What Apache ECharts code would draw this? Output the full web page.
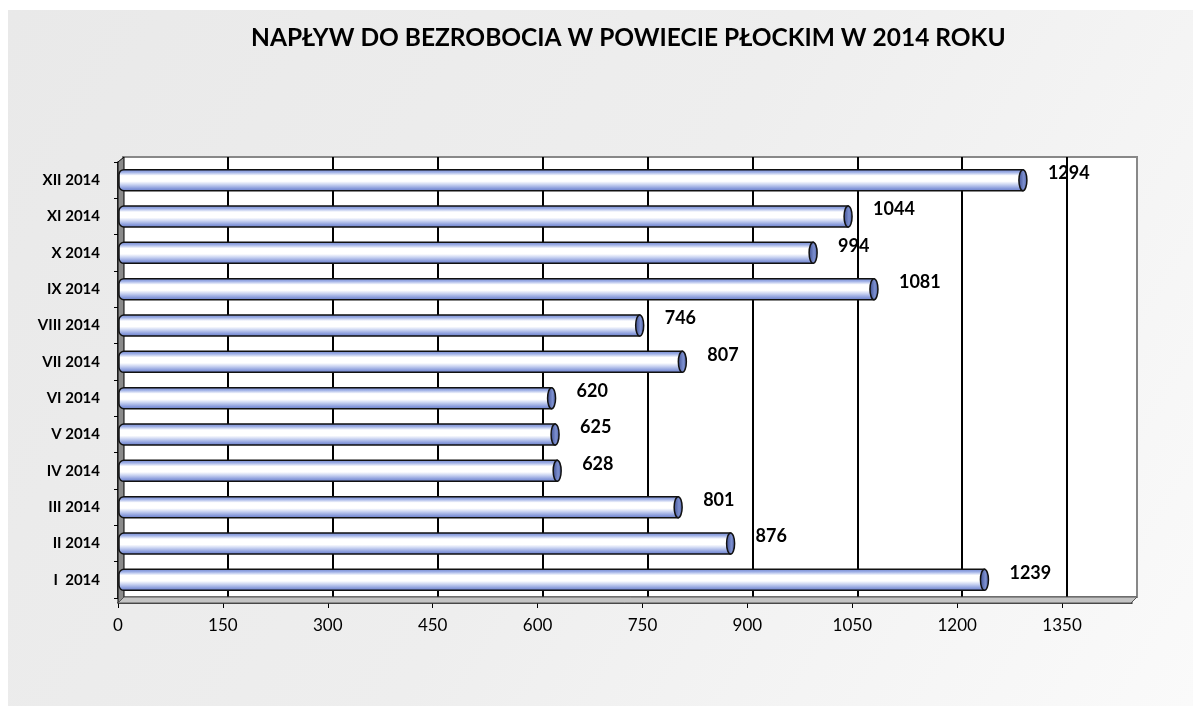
<!DOCTYPE html>
<html>
<head>
<meta charset="utf-8">
<script src="https://cdn.jsdelivr.net/npm/echarts@6/dist/echarts.min.js"></script>
<style>
html,body{margin:0;padding:0;background:#fff;}
#chart{width:1193px;height:706px;}
</style>
</head>
<body>
<div id="chart"></div>
<script>
const titleText = 'NAPŁYW DO BEZROBOCIA W POWIECIE PŁOCKIM W 2014 ROKU';
const categories = ['I  2014','II 2014','III 2014','IV 2014','V 2014','VI 2014','VII 2014','VIII 2014','IX 2014','X 2014','XI 2014','XII 2014'];
const values = [1239, 876, 801, 628, 625, 620, 807, 746, 1081, 994, 1044, 1294];
const axisMin = 0;
const axisMax = 1450;
const axisStep = 150;

const chart = echarts.init(document.getElementById('chart'));
const FONT = 'Lato, "Open Sans", sans-serif';

const gridColors = ['#888'];
for (let v = axisStep; v < axisMax; v += axisStep) gridColors.push('#000');
gridColors.push('#888');

function renderBar(params, api) {
  const v = api.value(0), c = api.value(1);
  const end = api.coord([v, c]);
  const start = api.coord([axisMin, c]);
  const h = api.size([0, 1])[1] * 0.58;
  const y0 = end[1] - h / 2;
  return {
    type: 'group',
    children: [
      {
        type: 'rect',
        shape: { x: start[0] + 1, y: y0, width: end[0] - start[0] - 1, height: h, r: [5, 0, 0, 5] },
        style: {
          fill: new echarts.graphic.LinearGradient(0, 0, 0, 1, [
            { offset: 0, color: '#6a80cc' },
            { offset: 0.15, color: '#9fb0e6' },
            { offset: 0.3, color: '#ffffff' },
            { offset: 0.55, color: '#ffffff' },
            { offset: 0.7, color: '#c8d2f1' },
            { offset: 0.86, color: '#8b9ddc' },
            { offset: 1, color: '#6378c4' }
          ]),
          stroke: '#111', lineWidth: 1.5
        }
      },
      {
        type: 'ellipse',
        shape: { cx: end[0], cy: end[1], rx: 4, ry: h / 2 },
        style: {
          fill: new echarts.graphic.LinearGradient(0, 0, 1, 0, [
            { offset: 0, color: '#3a4a8c' },
            { offset: 0.6, color: '#7d90d0' },
            { offset: 1, color: '#46579a' }
          ]),
          stroke: '#111', lineWidth: 1.5
        }
      },
      {
        type: 'text',
        style: {
          text: String(v), x: end[0] + 25, y: end[1] - 7,
          fill: '#000', fontSize: 18, fontWeight: 'bold', fontFamily: FONT,
          align: 'left', verticalAlign: 'middle'
        }
      }
    ]
  };
}

chart.setOption({
  animation: false,
  backgroundColor: '#fff',
  graphic: [
    {
      type: 'rect', z: -10, silent: true,
      shape: { x: 8, y: 10, width: 1185, height: 696 },
      style: { fill: new echarts.graphic.LinearGradient(0, 0, 1, 1, [
        { offset: 0, color: '#e9e9e9' },
        { offset: 0.5, color: '#eeeeee' },
        { offset: 1, color: '#fafafa' }
      ]) }
    },
    {
      type: 'polygon', z: 5, silent: true,
      shape: { points: [[118, 162], [124, 157], [124, 597], [118, 603]] },
      style: { fill: '#8a8a8a', stroke: '#000', lineWidth: 1 }
    },
    {
      type: 'polygon', z: 5, silent: true,
      shape: { points: [[118, 603], [124, 597], [1137, 597], [1131, 603]] },
      style: { fill: '#c4c4c4', stroke: '#555', lineWidth: 1 }
    }
  ],
  title: {
    text: titleText, left: 246, top: 21,
    textStyle: { fontFamily: FONT, fontSize: 24.5, fontWeight: 'bold', color: '#000' }
  },
  grid: [
    { left: 123, top: 157, width: 1014, height: 440, show: true, backgroundColor: '#fff', borderColor: '#888', borderWidth: 2 },
    { left: 118, top: 162, width: 1014, height: 436 }
  ],
  xAxis: [
    {
      gridIndex: 0, type: 'value', min: axisMin, max: axisMax, interval: axisStep,
      axisLine: { show: false }, axisTick: { show: false }, axisLabel: { show: false },
      splitLine: { show: true, lineStyle: { color: gridColors, width: 2 } }
    },
    {
      gridIndex: 1, type: 'value', min: axisMin, max: axisMax, interval: axisStep, offset: 5,
      axisLine: { show: true, lineStyle: { color: '#000', width: 1.5 } },
      axisTick: { show: true, length: 5, lineStyle: { color: '#000' } },
      axisLabel: { showMaxLabel: false, color: '#000', fontSize: 17, fontFamily: FONT, margin: 14,
        formatter: (val) => String(val) },
      splitLine: { show: false }
    }
  ],
  yAxis: [
    { gridIndex: 0, type: 'value', show: false, splitLine: { show: false } },
    {
      gridIndex: 1, type: 'category', data: categories,
      axisLine: { show: true, lineStyle: { color: '#000', width: 1.5 } },
      axisTick: { show: true, length: 4, lineStyle: { color: '#000' } },
      axisLabel: { color: '#000', fontSize: 15, fontWeight: 'bold', fontFamily: FONT, margin: 18 },
      splitLine: { show: false }
    }
  ],
  series: [
    {
      type: 'custom', xAxisIndex: 1, yAxisIndex: 1, z: 10,
      renderItem: renderBar,
      encode: { x: 0, y: 1 },
      data: values.map((v, i) => [v, i])
    }
  ]
});
</script>
</body>
</html>
